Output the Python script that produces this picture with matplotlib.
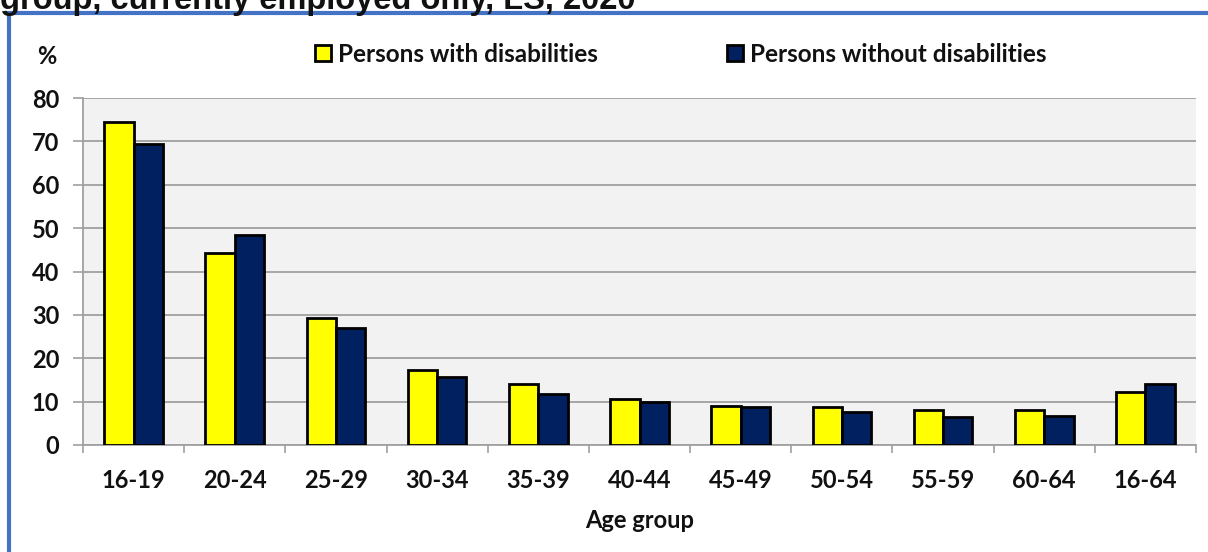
import matplotlib.pyplot as plt
import matplotlib.patches as mpatches
import numpy as np

age_groups = ["16-19", "20-24", "25-29", "30-34", "35-39", "40-44",
              "45-49", "50-54", "55-59", "60-64", "16-64"]
with_dis = [74.4, 44.2, 29.2, 17.4, 14.1, 10.5, 9.0, 8.7, 8.1, 8.1, 12.3]
without_dis = [69.3, 48.3, 27.0, 15.7, 11.8, 10.0, 8.8, 7.7, 6.5, 6.8, 14.1]

plt.rcParams['font.family'] = ['Lato', 'DejaVu Sans']
plt.rcParams['text.color'] = '#111111'

fig = plt.figure(figsize=(12.08, 5.52), dpi=100)
ax = fig.add_axes([83/1208, 1 - 445/552, (1196 - 83)/1208, (445 - 98)/552])

x = np.arange(len(age_groups))
width = 0.29
ax.bar(x - width/2, with_dis, width, color='#ffff00', edgecolor='black', linewidth=2.0,
       label='Persons with disabilities', zorder=3)
ax.bar(x + width/2, without_dis, width, color='#002060', edgecolor='black', linewidth=2.0,
       label='Persons without disabilities', zorder=3)

ax.set_facecolor('#f2f2f2')
ax.set_xlim(-0.5, len(age_groups) - 0.5)
ax.set_ylim(0, 80)
ax.set_yticks(np.arange(0, 81, 10))
ax.yaxis.grid(True, color='#a0a0a0', linewidth=1.3, zorder=0)
ax.set_axisbelow(True)

ax.set_xticks(x)
ax.set_xticklabels(age_groups, fontsize=17, fontweight='bold', color='#111111')
ax.set_xticks(np.arange(-0.5, len(age_groups), 1), minor=True)
ax.tick_params(axis='x', which='major', length=0, pad=17)
ax.tick_params(axis='x', which='minor', length=6, color='#a0a0a0', width=1.2, direction='out')
ax.tick_params(axis='y', length=7, color='#a0a0a0', width=1.2, pad=10, labelsize=17,
               labelcolor='#111111')
for lbl in ax.get_yticklabels():
    lbl.set_fontweight('bold')

for side in ['top', 'right']:
    ax.spines[side].set_visible(False)
for side in ['left', 'bottom']:
    ax.spines[side].set_color('#a0a0a0')
    ax.spines[side].set_linewidth(1.3)

fig.text(640/1208, 1 - 521/552, 'Age group', fontsize=17, fontweight='bold',
         ha='center', va='center')
fig.text(47/1208, 1 - 57/552, '%', fontsize=17, fontweight='bold',
         ha='center', va='center')

fig.legend(loc='center', bbox_to_anchor=(681/1208, 1 - 54/552), ncol=2, frameon=False,
           prop={'weight': 'bold', 'size': 17.5}, handlelength=0.65, handleheight=0.65,
           handletextpad=0.3, columnspacing=5.3)

fig.text(0.0, 1 - 9/552, 'group, currently employed only, LS, 2020',
         fontsize=23.5, fontweight='bold', family='Liberation Sans', ha='left', va='baseline')

border = mpatches.Rectangle((9/1208, -0.1), 1.2, 1 - 13/552 + 0.1, transform=fig.transFigure,
                            fill=False, edgecolor='#4472c4', linewidth=3.0, clip_on=False)
fig.patches.append(border)

plt.savefig('out.png', dpi=100)
plt.close()
